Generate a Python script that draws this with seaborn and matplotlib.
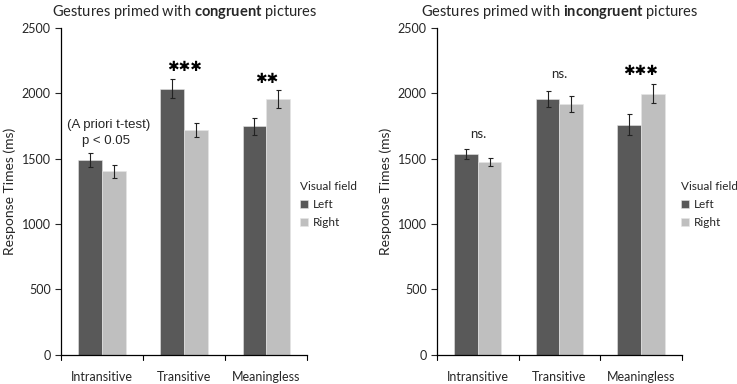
import matplotlib
matplotlib.use("Agg")
import matplotlib.pyplot as plt
import seaborn as sns
import pandas as pd
import numpy as np

# Data
categories = ["Intransitive", "Transitive", "Meaningless"]
fields = ["Left", "Right"]

congruent_left = [1490, 2035, 1750]
congruent_right = [1405, 1720, 1957]
congruent_left_err = [52, 72, 65]
congruent_right_err = [50, 50, 68]

incongruent_left = [1537, 1957, 1760]
incongruent_right = [1476, 1918, 1998]
incongruent_left_err = [40, 58, 80]
incongruent_right_err = [33, 62, 73]

# significance labels: (category, text, y)
congruent_marks = [("Transitive", "✱✱✱", 2150), ("Meaningless", "✱✱", 2060)]
incongruent_marks = [("Intransitive", "ns.", 1640), ("Transitive", "ns.", 2100),
                     ("Meaningless", "✱✱✱", 2120)]

palette = {"Left": "#595959", "Right": "#bfbfbf"}

sns.set_style("white")
plt.rcParams["font.family"] = ["Lato", "DejaVu Sans"]
plt.rcParams["mathtext.fontset"] = "custom"
plt.rcParams["mathtext.rm"] = "Lato"
plt.rcParams["mathtext.bf"] = "Lato:bold"


def make_df(left, right):
    return pd.DataFrame({
        "condition": categories * 2,
        "field": ["Left"] * 3 + ["Right"] * 3,
        "rt": left + right,
    })


def draw_panel(ax, left, right, left_err, right_err, title, marks, leg_x):
    df = make_df(left, right)
    sns.barplot(data=df, x="condition", y="rt", hue="field", order=categories,
                hue_order=fields, palette=palette, errorbar=None, width=0.58,
                saturation=1, ax=ax, edgecolor="#e6e6e6", linewidth=0.4)
    errs = {"Left": left_err, "Right": right_err}
    for cont, fld in zip(ax.containers, fields):
        for bar, e in zip(cont, errs[fld]):
            xc = bar.get_x() + bar.get_width() / 2
            ax.errorbar(xc, bar.get_height(), yerr=e, fmt="none", ecolor="#222222",
                        elinewidth=0.8, capsize=1.8, capthick=0.8)
    for cat, txt, y in marks:
        xi = categories.index(cat)
        if "✱" in txt:
            ax.text(xi, y, txt, ha="center", va="bottom", fontsize=10,
                    family=["DejaVu Sans"], color="black")
        else:
            ax.text(xi, y, txt, ha="center", va="bottom", fontsize=9.5)
    ax.set_ylim(0, 2500)
    ax.set_xlim(-0.5, 2.5)
    ax.set_yticks([0, 500, 1000, 1500, 2000, 2500])
    ax.set_xticks([0, 1, 2])
    ax.set_xticklabels(categories, fontsize=9)
    ax.tick_params(axis="x", length=0, pad=12)
    ax.tick_params(axis="y", labelsize=9, length=4, direction="out", left=True, width=0.8)
    # category boundary ticks (Excel style)
    for b in [-0.5, 0.5, 1.5, 2.5]:
        ax.plot([b, b], [0, -0.015], transform=ax.get_xaxis_transform(),
                color="black", lw=0.8, clip_on=False)
    sns.despine(ax=ax)
    for s in ["left", "bottom"]:
        ax.spines[s].set_color("black")
        ax.spines[s].set_linewidth(0.9)
    ax.set_xlabel("")
    ax.set_ylabel("Response Times (ms)", fontsize=10)
    ax.set_title(title, fontsize=10.5, pad=9)
    leg = ax.legend(title="Visual field", loc="center left", bbox_to_anchor=(leg_x, 0.46),
                    frameon=False, fontsize=8.5, title_fontsize=8.5, borderpad=0,
                    borderaxespad=0, handlelength=0.7, handleheight=0.7,
                    handletextpad=0.4, labelspacing=0.6)
    leg._legend_box.align = "left"


fig = plt.figure(figsize=(7.37, 3.84), dpi=100)
ax1 = fig.add_axes([0.083, 0.076, 0.334, 0.851])
ax2 = fig.add_axes([0.593, 0.076, 0.332, 0.851])

draw_panel(ax1, congruent_left, congruent_right, congruent_left_err, congruent_right_err,
           r"Gestures primed with $\bf{congruent}$ pictures", congruent_marks, 0.97)
draw_panel(ax2, incongruent_left, incongruent_right, incongruent_left_err, incongruent_right_err,
           r"Gestures primed with $\bf{incongruent}$ pictures", incongruent_marks, 0.995)

ax1.text(0.08, 1710, "(A priori t-test)", ha="center", va="bottom", fontsize=9.5,
         family=["Liberation Sans"])
ax1.text(0.05, 1590, "p < 0.05", ha="center", va="bottom", fontsize=9.5,
         family=["Liberation Sans"])

fig.savefig("out.png", dpi=100)
